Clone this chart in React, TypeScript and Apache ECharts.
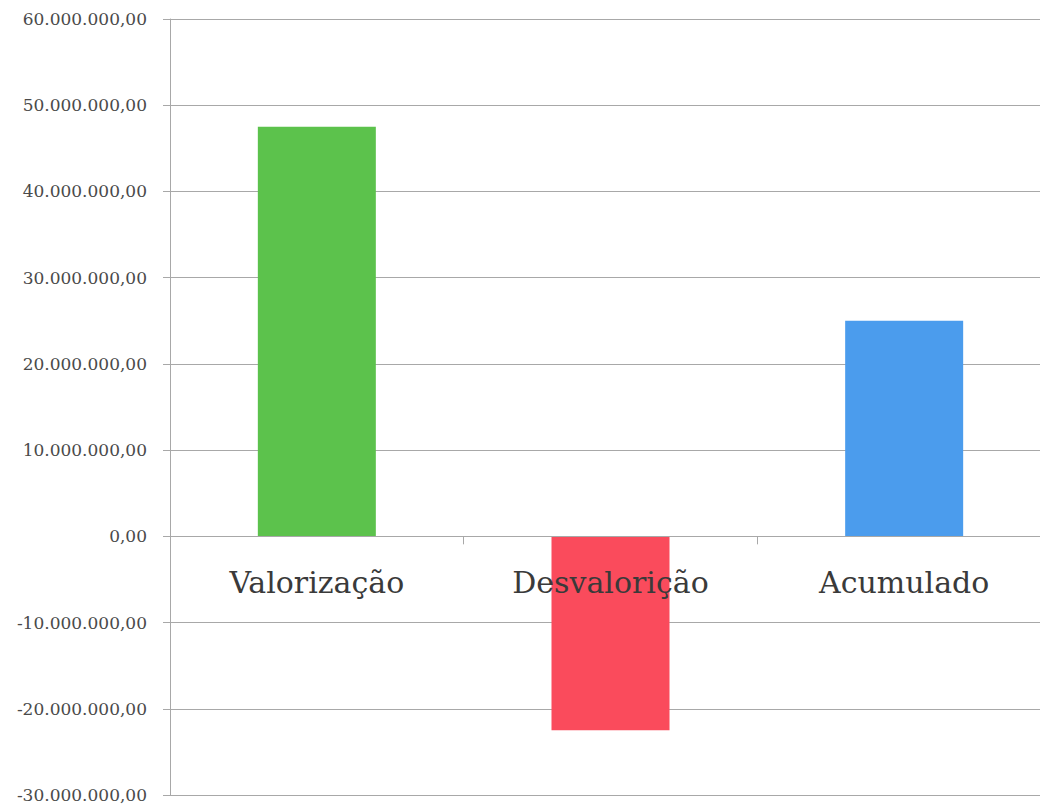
import React, { useEffect, useRef } from "react";
import * as echarts from "echarts";

const categories = ["Valorização", "Desvalorição", "Acumulado"];
const values = [47500000, -22500000, 25000000];
const barColors = ["#5cc24c", "#fa4b5c", "#4b9ced"];
const yMin = -30000000;
const yMax = 60000000;
const yStep = 10000000;

function formatBR(v: number): string {
  const neg = v < 0;
  const abs = Math.abs(v);
  const [intPart, dec] = abs.toFixed(2).split(".");
  const withDots = intPart.replace(/\B(?=(\d{3})+(?!\d))/g, ".");
  return (neg ? "-" : "") + withDots + "," + dec;
}

export default function App() {
  const ref = useRef<HTMLDivElement>(null);
  useEffect(() => {
    if (!ref.current) return;
    const chart = echarts.init(ref.current, undefined, { renderer: "svg" });
    chart.setOption({
      animation: false,
      backgroundColor: "#ffffff",
      grid: { left: 170, right: -11, top: 19, bottom: 11, containLabel: false, outerBoundsMode: "none" },
      xAxis: {
        type: "category",
        data: categories,
        z: 5,
        axisLine: { show: true, onZero: true, lineStyle: { color: "#a8a8a8", width: 1 } },
        axisTick: { show: true, alignWithLabel: false, length: 8, lineStyle: { color: "#a8a8a8" } },
        axisLabel: {
          margin: -228,
          fontFamily: "DejaVu Serif",
          fontSize: 30,
          color: "#3a3a3a",
        },
        splitLine: { show: false },
      },
      yAxis: {
        type: "value",
        min: yMin,
        max: yMax,
        interval: yStep,
        axisLine: { show: true, lineStyle: { color: "#a8a8a8", width: 1 } },
        axisTick: { show: true, length: 7, lineStyle: { color: "#a8a8a8" } },
        axisLabel: {
          margin: 23,
          fontFamily: "DejaVu Serif",
          fontSize: 17,
          color: "#4a4a4a",
          formatter: (v: number) => formatBR(v),
        },
        splitLine: { show: true, lineStyle: { color: "#a8a8a8", width: 1 } },
      },
      series: [
        {
          type: "bar",
          barWidth: 118,
          data: values.map((v, i) => ({ value: v, itemStyle: { color: barColors[i] } })),
        },
      ],
    });
    return () => chart.dispose();
  }, []);
  return (
    <div
      ref={ref}
      style={{ position: "fixed", left: 0, top: 0, width: 1040, height: 806, background: "#fff" }}
    />
  );
}
